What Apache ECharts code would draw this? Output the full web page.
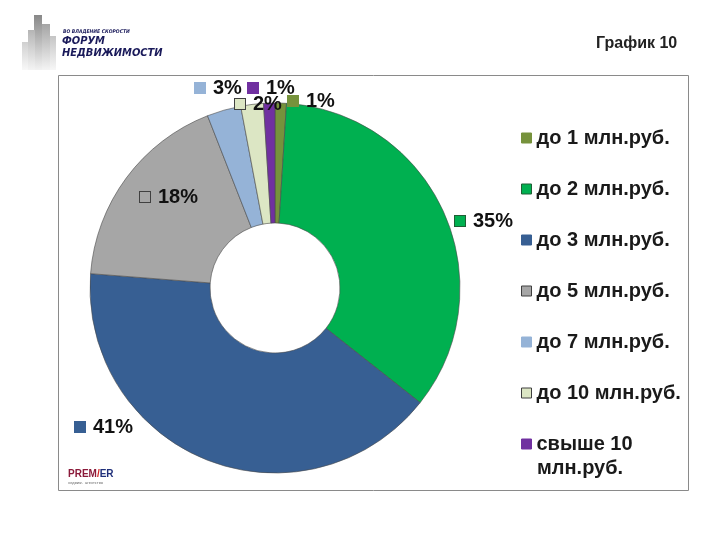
<!DOCTYPE html>
<html><head><meta charset="utf-8">
<script src="https://cdn.jsdelivr.net/npm/echarts@6/dist/echarts.min.js"></script>
<style>html,body{margin:0;padding:0;background:#fff}#c{width:720px;height:540px}</style>
</head><body><div id="c"></div>
<script>
// Data
const categories = ['до 1 млн.руб.', 'до 2 млн.руб.', 'до 3 млн.руб.', 'до 5 млн.руб.', 'до 7 млн.руб.', 'до 10 млн.руб.', 'свыше 10\nмлн.руб.'];
const shares = [1, 35, 41, 18, 3, 2, 1];
const colors = ['#76923C', '#00B050', '#375F93', '#A6A6A6', '#95B3D7', '#DCE6C4', '#7030A0'];
const keyBorder = ['#76923C', '#1f5f35', '#375F93', '#404040', '#95B3D7', '#404040', '#7030A0'];
// label anchor positions (left edge of key, vertical middle)
const labelX = [288, 455, 75, 140, 195, 235, 248];
const labelY = [101, 221, 427, 197, 88, 104, 88];

const chart = echarts.init(document.getElementById('c'), null, {renderer: 'canvas'});
const data = categories.map((n, i) => ({
  name: n, value: shares[i],
  itemStyle: {color: colors[i]},
  label: {
    formatter: '{k|}{t|' + shares[i] + '%}',
    rich: {
      k: {width: 10, height: 10, backgroundColor: colors[i], borderColor: keyBorder[i], borderWidth: 1},
      t: {fontSize: 20, fontWeight: 'bold', color: '#111', padding: [0, 0, 0, 8], fontFamily: 'Liberation Sans'}
    }
  }
}));
const legendData = categories.map((n, i) => ({
  name: n,
  itemStyle: {color: colors[i], borderColor: keyBorder[i], borderWidth: 1}
}));

const option = {
  animation: false,
  backgroundColor: '#fff',
  graphic: [
    {type: 'rect', shape: {x: 58.5, y: 75.5, width: 630, height: 415}, style: {fill: 'none', stroke: '#8a8a8a', lineWidth: 1}, z: 0},
    {type: 'text', left: 596, top: 36, style: {text: 'График 10', font: 'bold 16px "Liberation Sans"', fill: '#222'}},
    // logo silhouette
    {type: 'rect', shape: {x: 34, y: 15, width: 8, height: 55}, style: {fill: new echarts.graphic.LinearGradient(0,0,0,1,[{offset:0,color:'#888'},{offset:1,color:'#f2f2f2'}])}},
    {type: 'rect', shape: {x: 28, y: 30, width: 7, height: 40}, style: {fill: new echarts.graphic.LinearGradient(0,0,0,1,[{offset:0,color:'#b5b5b5'},{offset:1,color:'#f4f4f4'}])}},
    {type: 'rect', shape: {x: 42, y: 24, width: 8, height: 46}, style: {fill: new echarts.graphic.LinearGradient(0,0,0,1,[{offset:0,color:'#a5a5a5'},{offset:1,color:'#f4f4f4'}])}},
    {type: 'rect', shape: {x: 50, y: 36, width: 6, height: 34}, style: {fill: new echarts.graphic.LinearGradient(0,0,0,1,[{offset:0,color:'#c5c5c5'},{offset:1,color:'#f7f7f7'}])}},
    {type: 'rect', shape: {x: 22, y: 42, width: 6, height: 28}, style: {fill: new echarts.graphic.LinearGradient(0,0,0,1,[{offset:0,color:'#d0d0d0'},{offset:1,color:'#f8f8f8'}])}},
    {type: 'text', left: 63, top: 29, style: {text: 'ВО ВЛАДЕНИЕ СКОРОСТИ', font: 'italic bold 5px "DejaVu Sans Condensed"', fill: '#1a1a5a'}},
    {type: 'text', left: 62, top: 36, style: {text: 'ФОРУМ', font: 'italic bold 11px "DejaVu Sans Condensed"', fill: '#1a1a5a'}},
    {type: 'text', left: 62, top: 48, style: {text: 'НЕДВИЖИМОСТИ', font: 'italic bold 11px "DejaVu Sans Condensed"', fill: '#1a1a5a'}},
    // Premier logo
    {type: 'text', left: 68, top: 469, style: {
      text: '{a|PREM}{b|/}{c|ER}', rich: {
        a: {font: 'bold 10px "Liberation Sans"', fill: '#8b1a3a'},
        b: {font: 'bold 10px "Liberation Sans"', fill: '#d02020'},
        c: {font: 'bold 10px "Liberation Sans"', fill: '#1f2f7a'}
      }}},
    {type: 'text', left: 68, top: 481, style: {text: 'недвиж.  агентство', font: '4px "Liberation Sans"', fill: '#666'}},
    // second line of the last legend entry
    {type: 'text', left: 537, top: 458, style: {text: 'млн.руб.', font: 'bold 20px "Liberation Sans"', fill: '#1a1a1a'}}
  ],
  legend: {
    orient: 'vertical',
    left: 516, top: 120,
    itemWidth: 10, itemHeight: 10, itemGap: 25,
    icon: 'rect',
    data: legendData,
    formatter: function (name) { return name.split('\n')[0]; },
    textStyle: {fontSize: 20, fontWeight: 'bold', color: '#1a1a1a', fontFamily: 'Liberation Sans', lineHeight: 26}
  },
  series: [{
    type: 'pie',
    center: [275, 288],
    radius: [65, 185],
    startAngle: 90,
    clockwise: true,
    avoidLabelOverlap: false,
    itemStyle: {borderColor: '#4a4a4a', borderWidth: 0.6},
    label: {show: true, position: 'outside'},
    labelLine: {show: false},
    labelLayout: function (p) {
      return {x: labelX[p.dataIndex], y: labelY[p.dataIndex], align: 'left', verticalAlign: 'middle'};
    },
    emphasis: {disabled: true},
    data: data
  }]
};
chart.setOption(option);
</script>
</body></html>
